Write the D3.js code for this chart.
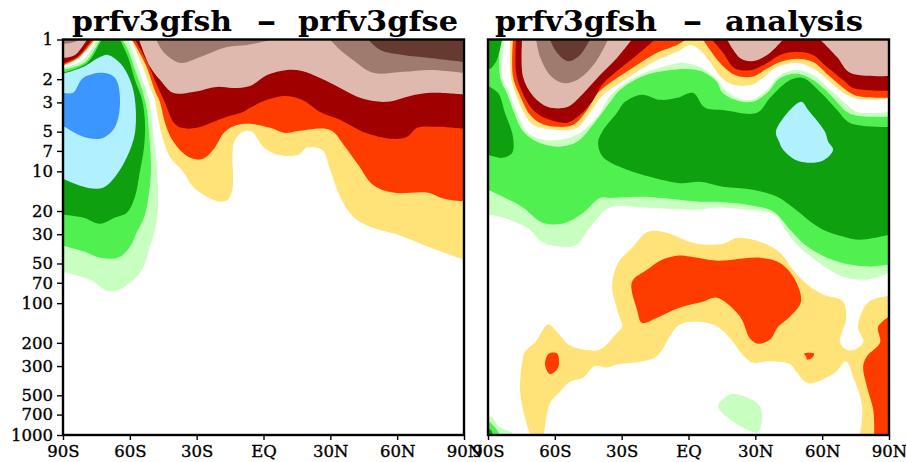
<!DOCTYPE html>
<html>
<head>
<meta charset="utf-8">
<script src="https://cdn.jsdelivr.net/npm/d3@7"></script>
<style>
	html, body { margin: 0; padding: 0; background: #fff; }
	text { font-family: "DejaVu Serif", serif; fill: #000; }
</style>
</head>
<body>
<script>
//axis values
const latTicks = [-90, -60, -30, 0, 30, 60, 90]
const latLabels = ['90S', '60S', '30S', 'EQ', '30N', '60N', '90N']
const levTicks = [1, 2, 3, 5, 7, 10, 20, 30, 50, 70, 100, 200, 300, 500, 700, 1000]
const leftTitle = ['prfv3gfsh', '-', 'prfv3gfse']
const rightTitle = ['prfv3gfsh', '-', 'analysis']

//contour outlines, each point is [latitude, pressure hPa]
//left panel: prfv3gfsh - prfv3gfse
const lPale = [[-90,1.64],[-81,1.43],[-74.7,1],[-60.8,1],[-59,1.2],[-55.9,1.7],[-52.7,2.41],[-51,3.02],[-49.6,5],[-47.8,9.5],[-47.4,19.5],[-48.7,27.7],[-51,37.3],[-54.5,55.7],[-59.9,70],[-65.8,80.4],[-70.3,80.4],[-77.9,66.3],[-90,58]]
const lGreen = [[-90,1.7],[-80,1.48],[-73.4,1],[-63.5,1],[-60.8,1.2],[-57.7,1.7],[-54.5,2.41],[-52.3,3.42],[-51.4,5],[-50.5,9.5],[-51.8,16.4],[-54,23.3],[-56.8,28.7],[-59.9,37.3],[-65.3,45.2],[-73.4,45.2],[-79.2,41.4],[-90,36.6]]
const lDarkGreen = [[-90,1.79],[-79.2,1.51],[-73.4,1.06],[-72.5,1],[-64.4,1],[-60.8,1.36],[-57.7,2.03],[-54.5,2.87],[-53.2,4.29],[-53.6,6.5],[-55.6,10.3],[-57.7,15.6],[-61.3,20.6],[-66.6,22.4],[-73.4,25],[-81,22.4],[-90,21.3]]
const lLightBlue = [[-90,1.82],[-81,1.62],[-73.4,1.36],[-69.8,1.31],[-64.4,1.51],[-59.9,2.03],[-57.7,2.87],[-57.7,5.11],[-61.3,7.8],[-66.6,11],[-72,13.3],[-79.2,13.3],[-90,11.4]]
const lBlue = [[-90,2.54],[-85.5,2.54],[-81,1.96],[-72,1.79],[-66.6,1.96],[-64.4,2.87],[-66.6,4.6],[-72,5.58],[-78.8,5.58],[-85.5,5.02],[-90,4.52]]

const lYellow = [[-59.5,1],[-53.6,1.7],[-51,2.3],[-48.7,2.87],[-47.8,3.6],[-45,5.77],[-42,7.8],[-36,10.1],[-31.6,13.1],[-25.3,15.6],[-19.5,17],[-16,16.4],[-14,13.8],[-13.7,10.3],[-14,7.8],[-12.8,5.77],[-9.2,5],[-5.1,5],[-2.4,5.77],[-0.2,6.5],[6.5,7.5],[15.5,7.5],[19.6,6.6],[26.3,6.87],[29.9,9.74],[34.4,15.6],[40.2,22],[47.8,26.3],[60,30.2],[74.8,37.9],[90,46.8]]
const lOrange = [[-59,1],[-53.2,1.51],[-48.7,2.45],[-46.4,3.02],[-44.2,4.29],[-41,5.77],[-36.6,7.12],[-31.6,8.04],[-27.1,8.04],[-22.6,6.87],[-17.3,5],[-11.4,4.44],[-6,4.36],[3,4.68],[9.7,5.11],[15.5,4.94],[29.9,4.85],[36.6,6.5],[42.5,8.92],[49.2,12.7],[58.2,14.5],[73.4,14.5],[80.6,16.1],[90,17]]
const lRed = [[-57.7,1],[-52.7,1.43],[-47.4,2.29],[-44.2,3.02],[-40.2,4.29],[-36.6,4.68],[-29.8,4.68],[-22.6,4.23],[-16.4,3.86],[-9.2,3.55],[-6,3.3],[1.6,2.87],[9.7,2.68],[17.3,2.87],[25.4,3.55],[34.4,4.07],[44.7,5.02],[58.2,5.67],[64.5,5.47],[69,4.68],[78,4.6],[90,4.77]]
const lPink = [[-55.9,1],[-51,1.6],[-46.4,2.03],[-40.6,2.54],[-31.6,2.5],[-20.9,2.29],[-13.7,2.33],[-6,2.25],[1.6,1.86],[10.6,1.7],[17.3,1.73],[25.4,1.96],[34.4,2.33],[44.7,2.82],[55.5,2.97],[65.8,2.68],[74.8,2.54],[90,2.62]]
const lBrownA = [[-48.2,1],[-45,1.24],[-40.6,1.43],[-36.6,1.51],[-28.5,1.36],[-16.4,1.14],[-7.4,1.1],[4.3,1]]
const lBrownB = [[29.9,1],[34.4,1.2],[40.2,1.43],[49.2,1.79],[62.7,1.76],[74.8,1.7],[90,1.79]]
const lDarkBrown = [[47,1],[52.4,1.2],[62.7,1.31],[74.8,1.38],[90,1.48]]

const lCornerYellow = [[-90,1.59],[-83.3,1.4],[-75.2,1]]
const lCornerOrange = [[-90,1.56],[-83.3,1.38],[-76,1]]
const lCornerRed = [[-90,1.52],[-83.7,1.36],[-77,1]]
const lCornerPink = [[-90,1.38],[-84.6,1.31],[-79.2,1]]
const lCornerBrown = [[-90,1.08],[-86,1.06],[-82.4,1]]

//right panel: prfv3gfsh - analysis
const rPale = [[-90,1],[-82.4,1],[-83.7,1.92],[-81,2.41],[-77,3.6],[-72.5,5.02],[-65.3,5.77],[-57.7,5.77],[-48.7,5.11],[-41,3.86],[-35.2,2.68],[-27.6,2.1],[-18.6,1.76],[-9.7,1.58],[-2,1.5],[6.5,1.66],[12.8,2.03],[16.4,2.41],[21.8,2.77],[28.5,2.87],[35.3,2.41],[41.1,1.86],[48.7,1.7],[55.9,1.86],[63.6,2.41],[71.2,3.13],[75.7,3.55],[90,3.55],
	[90,58.7],[80.2,66.3],[69.4,63],[59.1,50],[48.7,36],[43.4,27.7],[38.9,21.3],[26.3,19.5],[11,18.8],[5.2,19.5],[-20.4,18.8],[-35.2,18.8],[-45,27.7],[-50,36],[-56.3,37.3],[-65.3,34.7],[-71.1,27.7],[-72.5,26.7],[-83.3,22.4],[-90,21.3]]
const rGreen = [[-90,1],[-84.6,1],[-84.6,1.92],[-81,2.68],[-77.9,3.73],[-74.7,4.85],[-68,5.97],[-58.6,6.5],[-50,5.97],[-42.9,4.44],[-36.1,3.13],[-30.7,2.41],[-20.4,1.89],[-9.7,1.72],[0.7,1.68],[6.5,1.76],[12.8,2.1],[15,2.5],[20.9,2.87],[28.5,2.97],[35.3,2.54],[41.1,1.96],[48.7,1.82],[55.9,2.03],[63.6,2.62],[71.2,3.55],[75.7,3.79],[90,3.86],
	[90,51],[81.5,52.8],[72.5,51],[62.2,45.2],[52.3,36],[45.6,27.7],[38,20.2],[26.3,17.9],[11,17],[5.2,17],[-20.4,15.6],[-35.2,15.9],[-39.7,15.9],[-47.3,20.6],[-56.3,24.9],[-65.8,24.4],[-74.3,18.8],[-83.3,15.6],[-90,13.8]]
const rDarkGreenA = [[-90,1],[-83.7,1],[-86,1.43],[-89,1.67],[-90,1.67]]
const rDarkGreenB = [[-90,2.25],[-85.5,2.54],[-82.4,3.6],[-78.8,5.47],[-79.2,7.25],[-83.7,7.9],[-90,7.5]]
const rDarkGreenC = [[-40.6,6.07],[-38.8,5.02],[-32.1,3.6],[-28.5,2.97],[-20.9,2.62],[-12.8,2.87],[-5.1,2.77],[2,2.54],[7.4,3.3],[15.5,3.42],[30.8,3.6],[36.6,2.77],[45.6,2.03],[51.4,1.96],[59.1,2.5],[66.7,3.42],[72.5,4.29],[90,4.6],
	[90,30.3],[77,33],[69.4,31.2],[60.4,27.7],[55.9,24.9],[46.9,18.8],[39.8,15.6],[29,13.8],[15.5,13.1],[5.2,12],[-3.8,12.3],[-17.3,11],[-27.6,9.74],[-38.4,7.8]]
const rLightBlue = [[50.5,2.97],[53.7,3.42],[61.3,5.02],[62.7,5.97],[64.9,6.87],[60,8.35],[49.2,8.35],[42.5,6.87],[40.7,5.97],[39.3,4.94]]

const rYellow = [[-80.1,1],[-79.7,1.92],[-77.9,2.5],[-73.4,3.73],[-69.8,4.44],[-59,4.85],[-50,4.68],[-44.2,3.6],[-38.8,2.68],[-30.7,2.14],[-23.1,1.76],[-14.1,1.43],[-5.1,1.24],[0.7,1.1],[5.2,1.2],[9.7,1.48],[15,1.96],[20,2.2],[28.5,2.2],[33.5,1.96],[39.8,1.62],[48.7,1.51],[55.9,1.66],[63.6,2.1],[69.4,2.54],[75.7,2.82],[90,2.82]]
const rOrange = [[-78.8,1],[-78.8,1.92],[-75.6,2.68],[-71.1,3.73],[-66.6,4.29],[-59,4.6],[-51.8,4.44],[-45.5,3.42],[-40.6,2.54],[-32.1,1.96],[-23.1,1.56],[-14.1,1.26],[-5.1,1.1],[-1.1,1],[6.5,1],[9.7,1.2],[15,1.56],[20.9,1.86],[28.5,1.92],[35.3,1.66],[41.1,1.48],[48.7,1.4],[55.9,1.48],[63.6,1.92],[71.2,2.45],[75.7,2.68],[90,2.77]]
const rRed = [[-77.4,1],[-77.4,1.79],[-74.7,2.5],[-69.8,3.42],[-63.5,4],[-54.5,4.29],[-48.7,3.73],[-43.3,2.97],[-38.8,2.2],[-30.7,1.66],[-23.1,1.31],[-15,1],[10.6,1],[15.5,1.26],[20.9,1.66],[28.5,1.7],[35.3,1.51],[41.1,1.31],[48.7,1.24],[55.9,1.31],[62.2,1.62],[69.4,2.03],[73.9,2.33],[90,2.45]]
const rPinkA = [[-74.7,1],[-74.3,1.92],[-69.8,2.68],[-63,3.25],[-54.5,3.25],[-47.8,2.62],[-39.7,1.86],[-32.1,1.38],[-25.4,1]]
const rPinkB = [[17.3,1],[23.1,1.38],[28.5,1.46],[35.3,1.31],[42.5,1]]
const rPinkC = [[59.1,1],[66.7,1.36],[72.5,1.79],[90,1.89]]
const rBrown = [[-68.4,1],[-66.6,1.36],[-62.2,1.86],[-56.3,2.14],[-50,2.03],[-42,1.51],[-36.1,1]]
const rDarkBrown = [[-62.2,1],[-59,1.26],[-54,1.46],[-48.7,1.31],[-44.2,1]]

const rLowYellow = [[-71.1,1000],[-74.3,641],[-75.6,452],[-74.7,282],[-73.4,233],[-68.9,199],[-63,145],[-58.6,168],[-54,206],[-47.3,225],[-39.7,225],[-32.1,168],[-29.8,151],[-31.6,118],[-34.3,74],[-31.6,49.5],[-24.9,37.3],[-18.2,28.7],[-8.3,29.7],[-3.8,32],[3.8,35.4],[15.5,35.4],[21.8,32],[32.1,34.3],[41.1,41.4],[46.9,55.7],[53.2,72],[60.4,86],[69.4,97],[70.7,133],[68,199],[72.5,229],[78.4,199],[76.1,151],[80.6,99],[90,88],
	[90,1000],[77,1000],[77.9,605],[73.9,362],[70.7,276],[65.8,336],[53.7,405],[48.7,336],[45.6,290],[35.7,276],[28.5,282],[23.1,233],[18.6,184],[11,145],[-3.8,145],[-14.1,252],[-20.4,276],[-32.1,292],[-36.6,307],[-42,300],[-47.3,367],[-53.2,395],[-57.7,470],[-62.2,575],[-64.9,1000]]
const rLowOrangeA = [[-25.4,69],[-18.6,55.7],[-11.9,46.8],[-5.1,43.6],[0.7,44.3],[12.8,47.6],[32.1,45.2],[41.1,49.5],[47.8,66.3],[50.5,97.5],[45.6,126],[40.2,151],[36.6,189],[31.2,203],[27.6,185],[23.1,126],[12.8,91],[6.5,97.5],[-3.8,108],[-14.1,129],[-20.9,141],[-23.1,112]]
const rLowOrangeB = [[-62.6,241],[-59,241],[-58.1,282],[-59,319],[-62.2,345],[-64.4,290]]
const rLowOrangeC = [[51.9,241],[56.4,241],[55.5,259],[53.2,268],[52.8,255]]
const rLowOrangeD = [[90,126],[85.1,151],[86,199],[80.2,252],[78.4,300],[80.2,436],[82.9,641],[83.4,1000],[90,1000]]
const rLowPale = [[18.7,493],[26.3,520],[32.1,605],[33,763],[31.2,955],[26.3,908],[18.7,763],[13.3,605]]
const rCornerPale = [[-90,724],[-88.2,737],[-84.6,875],[-79.2,960],[-79.2,1000],[-90,1000]]
const rCornerGreen = [[-90,777],[-86.9,875],[-84.6,1000],[-90,1000]]
const rCornerDarkGreen = [[-90,875],[-88.2,945],[-87.8,1000],[-90,1000]]

//shade colors
const c = {
	darkBrown: '#663a30', brown: '#9f7a6e', pink: '#e0b9ae', red: '#a00000', orange: '#ff3c00', yellow: '#ffe278',
	pale: '#c8ffc0', green: '#50f050', darkGreen: '#0fa00f', lightBlue: '#b0f0ff', blue: '#3c96ff'
}

//outline that hangs from the top of the plot down to a boundary curve
const above = function(curve){
	return curve.concat([[curve[curve.length - 1][0], 0.9], [curve[0][0], 0.9]])
}

//a point on the plot frame, the outline keeps a hard corner there
const onFrame = function(d){
	return Math.abs(d[0]) === 90 || d[1] <= 1 || d[1] >= 1000
}

//painted in order, inner shades last
const leftLayers = [
	[lPale, c.pale], [lGreen, c.green], [lDarkGreen, c.darkGreen], [lLightBlue, c.lightBlue], [lBlue, c.blue],
	[above(lYellow), c.yellow], [above(lOrange), c.orange], [above(lRed), c.red], [above(lPink), c.pink],
	[above(lBrownA), c.brown], [above(lBrownB), c.brown], [above(lDarkBrown), c.darkBrown],
	[above(lCornerYellow), c.yellow], [above(lCornerOrange), c.orange], [above(lCornerRed), c.red],
	[above(lCornerPink), c.pink], [above(lCornerBrown), c.brown]
]
const rightLayers = [
	[rPale, c.pale], [rGreen, c.green], [rDarkGreenA, c.darkGreen], [rDarkGreenB, c.darkGreen], [rDarkGreenC, c.darkGreen], [rLightBlue, c.lightBlue],
	[above(rYellow), c.yellow], [above(rOrange), c.orange], [above(rRed), c.red],
	[above(rPinkA), c.pink], [above(rPinkB), c.pink], [above(rPinkC), c.pink],
	[above(rBrown), c.brown], [above(rDarkBrown), c.darkBrown],
	[rLowPale, c.pale], [rLowYellow, c.yellow], [rLowOrangeA, c.orange], [rLowOrangeB, c.orange], [rLowOrangeC, c.orange], [rLowOrangeD, c.orange],
	[rCornerPale, c.pale], [rCornerGreen, c.green], [rCornerDarkGreen, c.darkGreen]
]

const w = 906
const h = 462
const top_ = 39.5
const bottom = 435

const svg = d3.select('body').append('svg').attr('width', w).attr('height', h).style('display', 'block')

const y = d3.scaleLog().domain([1, 1000]).range([top_, bottom])

const drawPanel = function(id, x0, x1, title, titleSpots, layers, showLevels){
	const x = d3.scaleLinear().domain([-90, 90]).range([x0, x1])
	const closed = d3.line().x(d => x(d[0])).y(d => y(d[1])).curve(d3.curveCatmullRomClosed.alpha(0.5))
	const open = d3.line().x(d => x(d[0])).y(d => y(d[1])).curve(d3.curveCatmullRom.alpha(0.5))

	//smooth between frame points, straight along the frame
	const outline = function(pts){
		const start = pts.findIndex(onFrame)
		if(start < 0) return closed(pts)
		const ring = pts.slice(start).concat(pts.slice(0, start + 1))
		let path = ''
		let run = [ring[0]]
		ring.slice(1).forEach(d => {
			run.push(d)
			if(onFrame(d)){
				const piece = open(run)
				path += path === '' ? piece : 'L' + piece.slice(1)
				run = [d]
			}
		})
		return path + 'Z'
	}

	svg.append('clipPath').attr('id', id)
		.append('rect').attr('x', x0).attr('y', top_).attr('width', x1 - x0).attr('height', bottom - top_)

	svg.append('g').attr('clip-path', `url(#${id})`)
		.selectAll('path')
		.data(layers)
		.enter()
		.append('path')
		.attr('d', d => outline(d[0]))
		.attr('fill', d => d[1])

	//frame
	svg.append('rect')
		.attr('x', x0).attr('y', top_).attr('width', x1 - x0).attr('height', bottom - top_)
		.attr('fill', 'none').attr('stroke', '#000').attr('stroke-width', 2.4)

	const xAxis = d3.axisBottom(x).tickValues(latTicks).tickFormat((d, i) => latLabels[i]).tickSize(5).tickPadding(5)
	const gx = svg.append('g').attr('transform', `translate(0,${bottom})`).call(xAxis)
	gx.select('.domain').remove()
	gx.selectAll('line').attr('stroke', '#000').attr('stroke-width', 1.4)
	gx.selectAll('text')
		.attr('font-size', 16.5).style('font-family', '"DejaVu Serif", serif')
		.attr('stroke', '#000').attr('stroke-width', 0.35)

	if(showLevels){
		const yAxis = d3.axisLeft(y).tickValues(levTicks).tickFormat(d => d).tickSize(6).tickPadding(4)
		const gy = svg.append('g').attr('transform', `translate(${x0},0)`).call(yAxis)
		gy.select('.domain').remove()
		gy.selectAll('line').attr('stroke', '#000').attr('stroke-width', 1.4)
		gy.selectAll('text')
			.attr('font-size', 16.5).style('font-family', '"DejaVu Serif", serif')
			.attr('stroke', '#000').attr('stroke-width', 0.35)
	}

	//title words sit at fixed spots, stretched to the widths in the picture
	svg.append('g').selectAll('text')
		.data(title)
		.enter()
		.append('text')
		.attr('x', (d, i) => titleSpots[i][0])
		.attr('y', 31)
		.attr('font-size', 27)
		.attr('font-weight', 'bold')
		.attr('textLength', (d, i) => titleSpots[i][1])
		.attr('lengthAdjust', 'spacingAndGlyphs')
		.text(d => d)
}

drawPanel('clipLeft', 63, 464, leftTitle, [[72, 160], [256, 21], [298, 160]], leftLayers, true)
drawPanel('clipRight', 488, 889, rightTitle, [[495, 162], [682, 21], [725, 138]], rightLayers, false)
</script>
</body>
</html>
